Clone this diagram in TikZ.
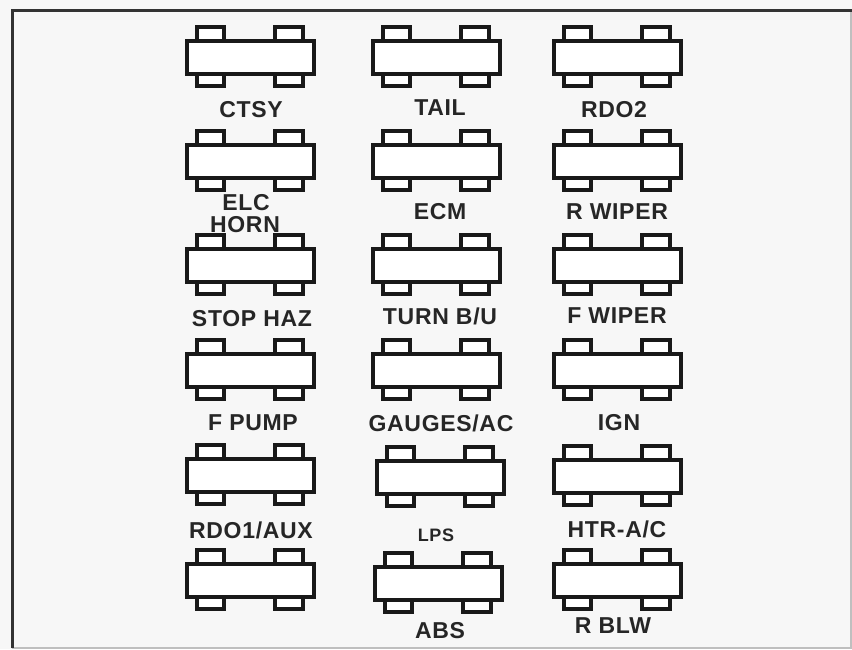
\documentclass[tikz,border=0pt]{standalone}
\usepackage{fontspec}
\setmainfont{Liberation Sans}
\definecolor{paper}{HTML}{F7F7F7}
\tikzset{
  x=1pt,y=-1pt,
  fusebody/.style={draw=black!90,line width=4pt,fill=white,rectangle,inner sep=0pt,minimum width=127pt,minimum height=33pt},
  fusetab/.style={draw=black!90,line width=4pt,fill=white},
  lbl/.style={font=\fontsize{23}{23}\selectfont\bfseries\addfontfeature{LetterSpace=3},text=black!85,inner sep=0pt,align=center},
  lblsmall/.style={lbl,font=\fontsize{18}{18}\selectfont\bfseries\addfontfeature{LetterSpace=3}},
  frame/.style={draw=black!80,line width=3pt},
  faintframe/.style={draw=black!25,line width=1.5pt}
}
\newcommand{\fuse}[3]{%
  \draw[fusetab] (#2-53,#3-30) rectangle (#2-26,#3);
  \draw[fusetab] (#2+25,#3-30) rectangle (#2+53,#3);
  \draw[fusetab] (#2-53,#3) rectangle (#2-26,#3+29);
  \draw[fusetab] (#2+25,#3) rectangle (#2+53,#3+29);
  \node[fusebody] (#1) at (#2,#3) {};
}
\begin{document}
\begin{tikzpicture}
\useasboundingbox (0,0) rectangle (852,649);
\fill[paper] (0,0) rectangle (852,649);
\coordinate (tl) at (12,10);
\coordinate (tr) at (852,10);
\coordinate (bl) at (12,648);
\coordinate (br) at (852,648);
\coordinate (rt) at (851,10);
\coordinate (rb) at (851,648);
\draw[faintframe] (bl) -- (br);
\draw[faintframe] (rt) -- (rb);
\draw[frame] (bl) -- (tl) -- (tr);
\fuse{a1}{250}{57}
\fuse{a2}{250}{161}
\fuse{a3}{250}{265}
\fuse{a4}{250}{370}
\fuse{a5}{250}{475}
\fuse{a6}{250}{580}
\fuse{b1}{436}{57}
\fuse{b2}{436}{161}
\fuse{b3}{436}{265}
\fuse{b4}{436}{370}
\fuse{b5}{440}{477}
\fuse{b6}{438}{583}
\fuse{c1}{617}{57}
\fuse{c2}{617}{161}
\fuse{c3}{617}{265}
\fuse{c4}{617}{370}
\fuse{c5}{617}{476}
\fuse{c6}{617}{580}
\node[lbl] (t1) at (251,110) {CTSY};
\node[lbl] (t2) at (440,108) {TAIL};
\node[lbl] (t3) at (614,110) {RDO2};
\node[lbl] (t4) at (246,203) {ELC};
\node[lbl] (t5) at (245,225) {HORN};
\node[lbl] (t6) at (440,212) {ECM};
\node[lbl] (t7) at (617,212) {R WIPER};
\node[lbl] (t8) at (252,319) {STOP HAZ};
\node[lbl] (t9) at (440,316) {TURN B/U};
\node[lbl] (t10) at (617,316) {F WIPER};
\node[lbl] (t11) at (253,423) {F PUMP};
\node[lbl] (t12) at (441,423) {GAUGES/AC};
\node[lbl] (t13) at (619,423) {IGN};
\node[lbl] (t14) at (251,530) {RDO1/AUX};
\node[lblsmall] (t15) at (436,535) {LPS};
\node[lbl] (t16) at (617,529) {HTR-A/C};
\node[lbl] (t17) at (440,631) {ABS};
\node[lbl] (t18) at (613,626) {R BLW};
\end{tikzpicture}
\end{document}
